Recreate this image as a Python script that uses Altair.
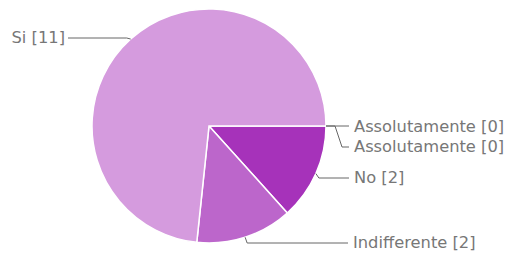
import math
import altair as alt
import pandas as pd

# ---- data ----
labels = ["Assolutamente", "Assolutamente", "No", "Indifferente", "Si"]
values = [0, 0, 2, 2, 11]
colors = ["#e2b3e8", "#c98ad6", "#a632ba", "#bc66cb", "#d59bde"]

# ---- layout (page pixels minus 8px margin) ----
W, H = 497, 247
CX, CY, R = 201, 118, 117
START = math.pi / 2
FS = 16.3
label_side = ["left", "left", "left", "left", "right"]
label_x = [346, 346, 346, 345, 57]
label_y = [119, 139, 170, 235, 30]
elbow_dx = [0, 9, 3, 2, -4]

total = sum(values)
rows, pts, txt = [], [], []
acc = 0
for i, (lab, v) in enumerate(zip(labels, values)):
    mid = START + 2 * math.pi * (acc + v / 2) / total
    acc += v
    ax = CX + R * math.sin(mid)
    ay = CY - R * math.cos(mid)
    name = f"{lab} [{v}]"
    key = f"{i}"
    line_end = label_x[i] - 5 if label_side[i] == "left" else label_x[i] + 3
    if i == 1:
        path = [(ax, ay), (ax + elbow_dx[i], ay), (ax + elbow_dx[i] + 7, label_y[i]), (line_end, label_y[i])]
    elif i == 0:
        path = [(ax, ay), (line_end, label_y[i] - 1)]
    else:
        path = [(ax, ay), (ax + elbow_dx[i], label_y[i]), (line_end, label_y[i])]
    for j, (px, py) in enumerate(path):
        pts.append({"k": key, "o": j, "px": px, "py": py})
    txt.append({"t": name, "px": label_x[i], "py": label_y[i], "side": label_side[i]})
    rows.append({"label": name, "value": v, "order": i, "color": colors[i]})

slices = pd.DataFrame(rows)
lines = pd.DataFrame(pts)
texts = pd.DataFrame(txt)

xs = alt.Scale(domain=[0, W], range=[0, W])
ys = alt.Scale(domain=[0, H], range=[0, H])

pie = alt.Chart(slices).mark_arc(radius=R, stroke="white", strokeWidth=1.5).encode(
    theta=alt.Theta("value:Q", stack=True, scale=alt.Scale(range=[START, START + 2 * math.pi])),
    order=alt.Order("order:Q"),
    color=alt.Color("color:N", scale=None),
    x=alt.value(CX),
    y=alt.value(CY),
)

leader = alt.Chart(lines).mark_line(color="#666666", strokeWidth=1).encode(
    x=alt.X("px:Q", scale=xs, axis=None),
    y=alt.Y("py:Q", scale=ys, axis=None),
    detail="k:N",
    order="o:Q",
)

tl = alt.Chart(texts[texts.side == "left"]).mark_text(
    align="left", baseline="middle", font="DejaVu Sans", fontSize=FS, color="#777777"
).encode(x=alt.X("px:Q", scale=xs, axis=None), y=alt.Y("py:Q", scale=ys, axis=None), text="t:N")

tr = alt.Chart(texts[texts.side == "right"]).mark_text(
    align="right", baseline="middle", font="DejaVu Sans", fontSize=FS, color="#777777"
).encode(x=alt.X("px:Q", scale=xs, axis=None), y=alt.Y("py:Q", scale=ys, axis=None), text="t:N")

chart = alt.layer(pie, leader, tl, tr).properties(
    width=W, height=H, padding=0, autosize=alt.AutoSizeParams(type="none")
).configure_view(stroke=None)

chart.save("out.html", embed_options={"renderer": "svg", "actions": False})
